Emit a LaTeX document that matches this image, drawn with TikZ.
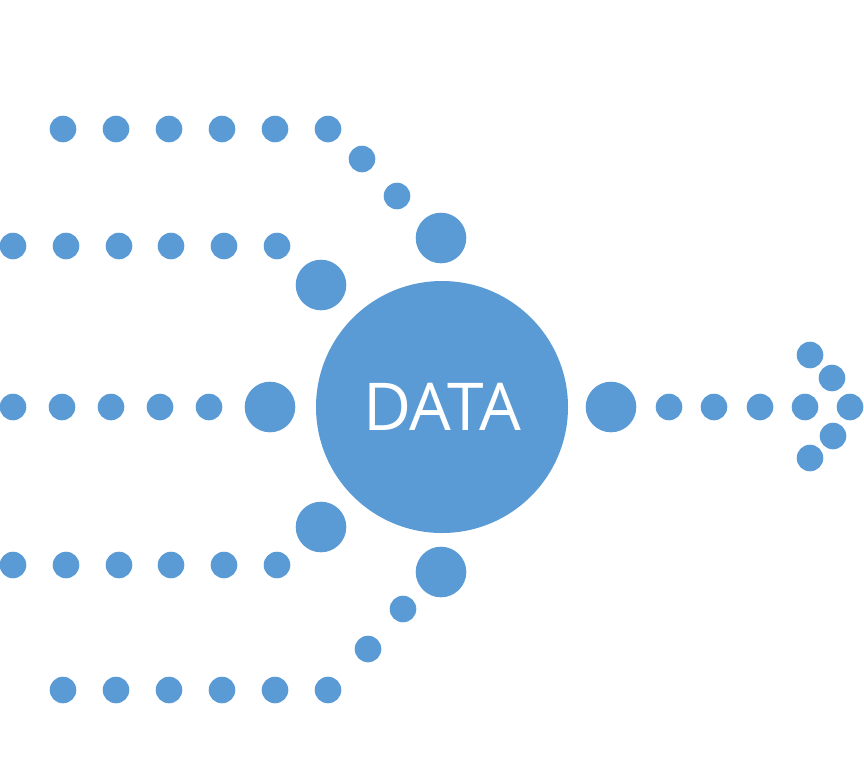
\documentclass[tikz,border=0pt]{standalone}
\usepackage{fontspec}
\setmainfont{Open Sans}
\usepackage{xcolor}
\definecolor{datablue}{HTML}{5B9BD5}

\begin{document}
\begin{tikzpicture}[x=1pt, y=-1pt]
  % Style definitions
  \tikzstyle{dot} = [circle, fill=datablue, inner sep=0pt, minimum size=26.6pt]
  \tikzstyle{bigdot} = [circle, fill=datablue, inner sep=0pt, minimum size=50.6pt]
  \tikzstyle{hub} = [circle, fill=datablue, inner sep=0pt, minimum size=252pt, text=white, font=\fontsize{66}{66}\selectfont]

  \useasboundingbox (0,0) rectangle (864,756);

  % Center
  \node (data) [hub] at (442,407) {DATA};

  % Top branch
  \foreach \x [count=\i] in {63,116,169,222,275,328}
    \node (top\i) [dot] at (\x,129) {};
  \node (top7) [dot] at (362,159) {};
  \node (top8) [dot] at (397,196) {};
  \node (topin) [bigdot] at (441,238) {};

  % Upper branch
  \foreach \x [count=\i] in {13,66,119,171,224,277}
    \node (up\i) [dot] at (\x,246) {};
  \node (upin) [bigdot] at (321,285) {};

  % Middle branch
  \foreach \x [count=\i] in {13,62,111,160,209}
    \node (mid\i) [dot] at (\x,407) {};
  \node (midin) [bigdot] at (270,407) {};

  % Lower branch
  \foreach \x [count=\i] in {13,66,119,171,224,277}
    \node (low\i) [dot] at (\x,565) {};
  \node (lowin) [bigdot] at (321,527) {};

  % Bottom branch
  \foreach \x [count=\i] in {63,116,169,222,275,328}
    \node (bot\i) [dot] at (\x,690) {};
  \node (bot7) [dot] at (368,649) {};
  \node (bot8) [dot] at (403,609) {};
  \node (botin) [bigdot] at (441,572) {};

  % Output arrow
  \node (out) [bigdot] at (611,407) {};
  \foreach \x [count=\i] in {669,714,760,805,850}
    \node (out\i) [dot] at (\x,407) {};
  \node (tip1) [dot] at (810,355) {};
  \node (tip2) [dot] at (832,378) {};
  \node (tip3) [dot] at (833,436) {};
  \node (tip4) [dot] at (810,458) {};
\end{tikzpicture}
\end{document}
